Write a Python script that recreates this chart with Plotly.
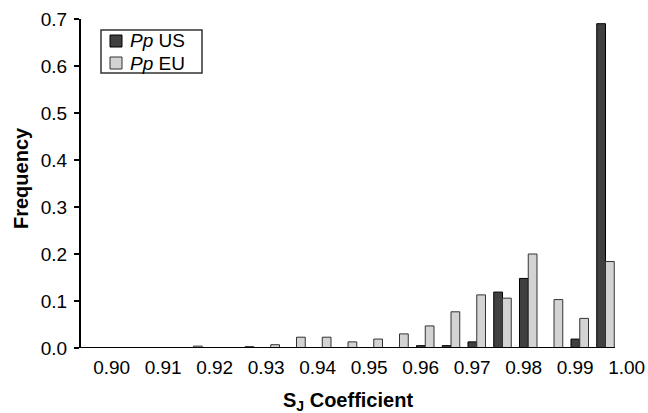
import plotly.graph_objects as go

# bin labels (lower edges of 0.005-wide bins)
bins = [0.895, 0.900, 0.905, 0.910, 0.915, 0.920, 0.925, 0.930, 0.935, 0.940, 0.945,
        0.950, 0.955, 0.960, 0.965, 0.970, 0.975, 0.980, 0.985, 0.990, 0.995]
pp_us = [0, 0, 0, 0, 0, 0, 0, 0, 0, 0, 0,
         0, 0, 0.005, 0.005, 0.013, 0.119, 0.148, 0, 0.019, 0.690]
pp_eu = [0, 0, 0, 0, 0.004, 0, 0.003, 0.007, 0.023, 0.023, 0.013,
         0.019, 0.030, 0.047, 0.077, 0.113, 0.106, 0.200, 0.103, 0.063, 0.184]
tick_vals = [0.90, 0.91, 0.92, 0.93, 0.94, 0.95, 0.96, 0.97, 0.98, 0.99, 1.00]
tick_text = ["0.90", "0.91", "0.92", "0.93", "0.94", "0.95", "0.96", "0.97", "0.98", "0.99", "1.00"]
y_ticks = [0.0, 0.1, 0.2, 0.3, 0.4, 0.5, 0.6, 0.7]

FONT = "Liberation Sans, Arial, sans-serif"
US_COL = "#404040"
EU_COL = "#d3d3d3"

def nz(vals):
    return [v if v > 0 else None for v in vals]

fig = go.Figure()
fig.add_trace(go.Bar(x=bins, y=nz(pp_us), name="<i>Pp</i> US",
                     marker=dict(color=US_COL, line=dict(color="#000000", width=1))))
fig.add_trace(go.Bar(x=bins, y=nz(pp_eu), name="<i>Pp</i> EU",
                     marker=dict(color=EU_COL, line=dict(color="#333333", width=1))))

W, H = 648, 413
SCALE = 5150.0                 # px per data unit
X0, X1 = 0.893155, 0.996845   # visible axis extent
L, T, B = 81, 19, 348          # plot edges in pixels
XR = X1 + (W - 615) / SCALE    # room for the last tick label
R = W
pw, ph = R - L, B - T

def px(xs):
    return (xs - L) / pw

def py(ys):
    return (B - ys) / ph

shapes = []
annotations = []
# x axis line only over the bins' extent
shapes.append(dict(type="line", xref="x", yref="y", x0=X0, x1=X1, y0=0, y1=0,
                   line=dict(color="#000", width=2)))
# axis titles
annotations.append(dict(x=px(348), y=py(387), xref="paper", yref="paper",
                        text="<b>S<sub>J</sub> Coefficient</b>", showarrow=False,
                        xanchor="center", yanchor="top",
                        font=dict(family=FONT, size=20, color="#000")))
annotations.append(dict(x=px(21), y=py(178), xref="paper", yref="paper",
                        text="<b>Frequency</b>", showarrow=False, textangle=-90,
                        xanchor="center", yanchor="middle",
                        font=dict(family=FONT, size=20, color="#000")))
# manual legend
shapes.append(dict(type="rect", xref="paper", yref="paper",
                   x0=px(101), x1=px(202), y0=py(30), y1=py(73),
                   line=dict(color="#333", width=1.5), fillcolor="white"))
for i, (name, col, lc) in enumerate([("<i>Pp</i> US", US_COL, "#000"), ("<i>Pp</i> EU", EU_COL, "#333")]):
    yc = 41 + 22 * i
    shapes.append(dict(type="rect", xref="paper", yref="paper",
                       x0=px(110), x1=px(122), y0=py(yc + 6), y1=py(yc - 6),
                       line=dict(color=lc, width=1), fillcolor=col))
    annotations.append(dict(x=px(128), y=py(yc), xref="paper", yref="paper",
                            text=name, showarrow=False, xanchor="left", yanchor="middle",
                            font=dict(family=FONT, size=19, color="#000")))

fig.update_layout(
    width=W, height=H,
    margin=dict(l=L, r=W - R, t=T, b=H - B, pad=0),
    paper_bgcolor="white", plot_bgcolor="white",
    barmode="group", bargap=0.32, bargroupgap=0,
    showlegend=False,
    shapes=shapes, annotations=annotations,
    font=dict(family=FONT, size=19, color="#000"),
    xaxis=dict(range=[X0, XR], tickvals=[v - 0.0009 for v in tick_vals], ticktext=tick_text,
               ticks="", showgrid=False, zeroline=False, showline=False,
               ticklabelstandoff=6,
               tickfont=dict(family=FONT, size=19, color="#000")),
    yaxis=dict(range=[0, 0.7], tickvals=y_ticks, tickformat=".1f",
               ticks="outside", ticklen=5, tickwidth=2, tickcolor="#000",
               showgrid=False, zeroline=False, showline=True,
               linecolor="#000", linewidth=2, ticklabelstandoff=3,
               tickfont=dict(family=FONT, size=19, color="#000")),
)

fig.write_html("out.html", config={"displayModeBar": False},
               post_script="document.body.style.margin='0';document.body.style.overflow='hidden';")
